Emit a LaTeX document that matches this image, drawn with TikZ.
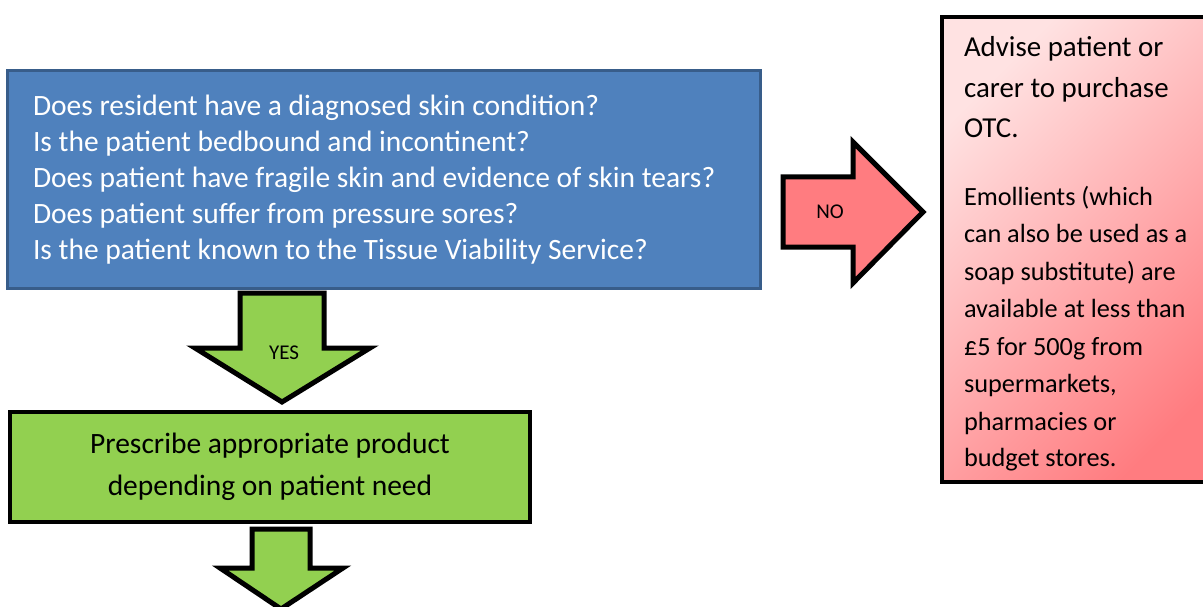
\documentclass[tikz,border=0pt]{standalone}
\usepackage{fontspec}
\setmainfont{Carlito}
\usetikzlibrary{positioning, calc}
\definecolor{qblue}{HTML}{4F81BD}
\definecolor{qblueedge}{HTML}{385D8A}
\definecolor{okgreen}{HTML}{92D050}
\definecolor{nored}{HTML}{FF7C80}
\definecolor{palered}{HTML}{FFE2E2}
\tikzset{natural spaces/.style={execute at begin node={\spaceskip=0pt\relax\xspaceskip=0pt\relax}}}
\tikzset{question/.style={draw=qblueedge, line width=3pt, fill=qblue, text=white, align=left, inner xsep=26pt, natural spaces}}
\tikzset{prescribe/.style={draw, line width=4pt, fill=okgreen, align=center, natural spaces}}
\tikzset{advice/.style={draw, line width=4pt, shade, top color=palered, bottom color=nored, shading angle=45, align=left, inner xsep=22pt, natural spaces}}
\tikzset{yesarrow/.style={draw, line width=5pt, fill=okgreen, line join=miter}}
\tikzset{noarrow/.style={draw, line width=5pt, fill=nored, line join=miter}}
\tikzset{arrowlabel/.style={font=\fontsize{21}{24}\selectfont}}

\begin{document}
\begin{tikzpicture}[x=1pt, y=-1pt, font=\fontsize{29.5}{36}\selectfont]
\useasboundingbox (0,0) rectangle (1203,607);

\node[question, text width=701pt, minimum height=217pt] (questions) at (383.5,179.5)
  {Does resident have a diagnosed skin condition?\\
   Is the patient bedbound and incontinent?\\
   Does patient have fragile skin and evidence of skin tears?\\
   Does patient suffer from pressure sores?\\
   Is the patient known to the Tissue Viability Service?};

\node[prescribe, minimum width=520pt, minimum height=110pt, font=\fontsize{29.5}{42}\selectfont] (product) at (270,467)
  {Prescribe appropriate product\\depending on patient need};

\node[advice, text width=245pt, minimum width=272pt, minimum height=465pt, anchor=north west] (purchase) at (940,15)
  {\fontsize{28.9}{40.5}\selectfont \rule{0pt}{29pt}Advise patient or\\
   carer to purchase\\
   OTC.\\[30pt]
   \fontsize{26.3}{37.5}\selectfont Emollients (which\\
   can also be used as a\\
   soap substitute) are\\
   available at less than\\
   £5 for 500g from\\
   supermarkets,\\
   pharmacies or\\
   budget stores.};

% block arrows
\draw[yesarrow] (240,293) -- (324,293) -- (324,348) -- (370,348) -- (282,402) -- (195,348) -- (240,348) -- cycle;
\node[arrowlabel] (yes) at (284,353) {YES};

\draw[noarrow] (783,177) -- (853,177) -- (853,142) -- (923,212) -- (853,283) -- (853,247) -- (783,247) -- cycle;
\node[arrowlabel] (no) at (830,212) {NO};

\draw[yesarrow] (252,529) -- (310,529) -- (310,568) -- (343,568) -- (281,609) -- (220,568) -- (252,568) -- cycle;
\end{tikzpicture}
\end{document}
